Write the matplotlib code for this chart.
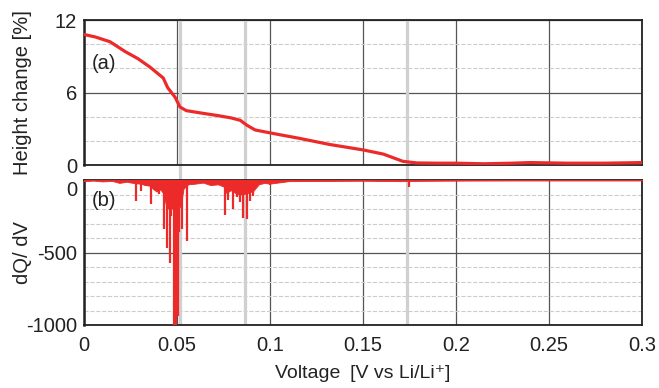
import matplotlib
matplotlib.use("Agg")
import matplotlib.pyplot as plt
import matplotlib.transforms as mtransforms
from matplotlib.ticker import MultipleLocator

plt.rcParams['font.family'] = ['Liberation Sans', 'DejaVu Sans']
plt.rcParams['axes.unicode_minus'] = False

RED = '#ec2a2a'
TXT = '#222222'

# (a) height change [%] vs voltage
height_v = [0.0, 0.006, 0.014, 0.022, 0.029, 0.0355, 0.0426, 0.045, 0.049, 0.0516,
            0.055, 0.063, 0.0715, 0.079, 0.084, 0.0875, 0.092, 0.102, 0.116, 0.132,
            0.15, 0.161, 0.1715, 0.179, 0.19, 0.2, 0.215, 0.23, 0.24, 0.26, 0.28, 0.3]
height_pct = [10.8, 10.6, 10.2, 9.4, 8.8, 8.1, 7.2, 6.4, 5.6, 4.8,
              4.5, 4.3, 4.1, 3.9, 3.7, 3.3, 2.9, 2.6, 2.2, 1.7,
              1.25, 0.9, 0.3, 0.17, 0.15, 0.15, 0.1, 0.15, 0.2, 0.15, 0.15, 0.2]

# (b) dQ/dV: dense noisy band near zero
band_v = [0.0, 0.005, 0.01, 0.015, 0.019, 0.023, 0.027, 0.03, 0.033, 0.0355,
          0.037, 0.039, 0.041, 0.0425, 0.044, 0.046, 0.048, 0.05, 0.052, 0.0535,
          0.056, 0.06, 0.064, 0.068, 0.072, 0.075, 0.0765, 0.079, 0.082, 0.085,
          0.088, 0.091, 0.094, 0.097, 0.1, 0.11, 0.15, 0.17, 0.18, 0.2, 0.23, 0.3]
band_low = [-8, -4, -10, -6, -20, -12, -22, -25, -35, -40,
            -60, -80, -65, -90, -170, -210, -190, -200, -180, -60,
            -30, -25, -18, -35, -30, -45, -90, -70, -95, -100,
            -90, -75, -30, -20, -25, -8, -5, -8, -6, -4, -3, -3]

# (b) dQ/dV: individual spikes
spike_v = [0.0278, 0.0305, 0.0332, 0.036, 0.038, 0.0405, 0.043, 0.0447, 0.0462,
           0.0468, 0.0486, 0.0494, 0.0508, 0.0513, 0.0525, 0.0554, 0.0758, 0.0775,
           0.080, 0.082, 0.0839, 0.0855, 0.0876, 0.0893, 0.091, 0.1, 0.1745]
spike_d = [-145, -76, -41, -166, -70, -95, -338, -469, -572,
           -250, -1000, -1000, -940, -360, -338, -421, -241, -138,
           -200, -120, -150, -262, -270, -145, -110, -35, -45]

# light gray marker lines
marker_v = [0.0516, 0.0866, 0.1737]

x_ticks = [0, 0.05, 0.1, 0.15, 0.2, 0.25, 0.3]
x_labels = ['0', '0.05', '0.1', '0.15', '0.2', '0.25', '0.3']


def style_axis(ax):
    ax.set_xlim(0, 0.3)
    ax.set_xticks(x_ticks)
    ax.tick_params(axis='both', which='both', length=0, labelsize=14.5,
                   colors=TXT, pad=5)
    ax.tick_params(axis='x', pad=8)
    ax.grid(True, which='major', color='#555555', linewidth=0.9)
    ax.grid(True, which='minor', axis='y', color='#cccccc', linestyle='--',
            linewidth=0.8)
    ax.set_axisbelow(True)
    for side in ['left', 'bottom', 'top', 'right']:
        ax.spines[side].set_color(TXT)
        ax.spines[side].set_linewidth(1.3)
    ax.spines['left'].set_linewidth(1.8)


fig = plt.figure(figsize=(6.59, 3.88), dpi=100)
ax1 = fig.add_axes([84 / 659, 1 - 165 / 388, 558 / 659, 145 / 388])
ax2 = fig.add_axes([84 / 659, 1 - 325 / 388, 558 / 659, 145 / 388])

# top panel
style_axis(ax1)
ax1.set_ylim(0, 12)
ax1.set_yticks([0, 6, 12])
ax1.yaxis.set_minor_locator(MultipleLocator(2))
ax1.set_xticklabels([])
for v in marker_v:
    ax1.axvline(v, ymin=-15 / 145, ymax=1, color='#d0d0d0', linewidth=2.3,
                clip_on=False, zorder=1.5)
ax1.plot(height_v, height_pct, color=RED, linewidth=2.3, zorder=3)
ax1.set_ylabel('Height change [%]', fontsize=14.5, color=TXT)
ax1.yaxis.set_label_coords(-0.093, 0.5)
ax1.text(0.013, 0.70, '(a)', transform=ax1.transAxes, fontsize=14.5,
         color=TXT, va='center')

# bottom panel
style_axis(ax2)
ax2.set_ylim(-1000, 0)
ax2.set_yticks([-1000, -500, 0])
ax2.yaxis.set_minor_locator(MultipleLocator(100))
ax2.set_xticklabels(x_labels)
# the top "0" sits a little below its grid line, as in the reference
shift = mtransforms.ScaledTranslation(0, -6 / 72, fig.dpi_scale_trans)
top_lbl = ax2.get_yticklabels()[-1]
top_lbl.set_transform(top_lbl.get_transform() + shift)
for v in marker_v:
    ax2.axvline(v, color='#d0d0d0', linewidth=2.3, zorder=1.5)
ax2.fill_between(band_v, band_low, 0, color=RED, linewidth=0.6, zorder=3)
ax2.vlines(spike_v, spike_d, 0, color=RED, linewidth=1.6, zorder=3)
ax2.plot([0, 0.3], [-2, -2], color=RED, linewidth=1.2, zorder=3)
ax2.set_ylabel('dQ/ dV', fontsize=14.5, color=TXT)
ax2.yaxis.set_label_coords(-0.093, 0.5)
ax2.set_xlabel('Voltage\u2002[V vs Li/Li\u207a]', fontsize=14, color=TXT,
               labelpad=7)
ax2.text(0.013, 0.86, '(b)', transform=ax2.transAxes, fontsize=14.5,
         color=TXT, va='center')

fig.savefig('out.png', dpi=100)
